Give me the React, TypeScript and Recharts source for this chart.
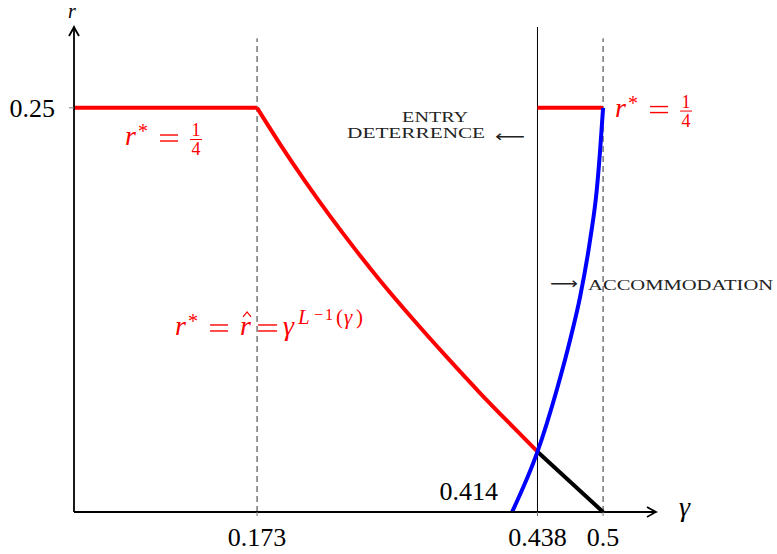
import React from 'react';
import { LineChart, Line, XAxis, YAxis, ReferenceLine, ReferenceDot } from 'recharts';

// gamma / r values
const redFlatG = [0, 0.173];
const redFlatR = [0.25, 0.25];
const redCurveG = [0.173, 0.1947, 0.2183, 0.242, 0.2656, 0.2892, 0.3204, 0.3526, 0.3837, 0.4149, 0.438];
const redCurveR = [0.25, 0.2276, 0.2047, 0.183, 0.1626, 0.1432, 0.1192, 0.0956, 0.0736, 0.0526, 0.0373];
const redRightG = [0.438, 0.5];
const redRightR = [0.25, 0.25];
const blueG = [0.414, 0.438, 0.4562, 0.4688, 0.4783, 0.4877, 0.494, 0.4972, 0.5];
const blueR = [0, 0.0373, 0.0755, 0.1064, 0.1332, 0.1682, 0.1991, 0.2239, 0.25];
const blackG = [0.438, 0.5];
const blackR = [0.0373, 0];

const xTicks = [0.173, 0.438, 0.5];
const yTicks = [0.25];
const dashedAt = [0.173, 0.5];
const solidAt = 0.438;

const zip = (g: number[], r: number[]) => g.map((v, i) => ({ g: v, r: r[i] }));

const SERIF = "'Liberation Serif', 'DejaVu Serif', serif";
const RED = '#ff0000';

const note = (key: string, g: number, r: number, content: React.ReactNode) => (
  <ReferenceDot
    key={key}
    x={g}
    y={r}
    r={0}
    ifOverflow="visible"
    shape={(p: any) => <g transform={`translate(${p.cx},${p.cy})`}>{content}</g>}
  />
);

const Eq = ({ x1, x2 }: { x1: number; x2: number }) => (
  <g stroke={RED} strokeWidth={1.4}>
    <line x1={x1} x2={x2} y1={-10} y2={-10} />
    <line x1={x1} x2={x2} y1={-4} y2={-4} />
  </g>
);

const RStar = () => (
  <g fill={RED} fontFamily={SERIF}>
    <text x={0} y={0} fontStyle="italic" fontSize={28}>r</text>
    <text x={13} y={-7} fontSize={20}>*</text>
  </g>
);

const Quarter = () => (
  <g>
    <RStar />
    <Eq x1={35} x2={53} />
    <g fill={RED} fontFamily={SERIF} fontSize={18} textAnchor="middle">
      <text x={71} y={-9}>1</text>
      <text x={71} y={10}>4</text>
    </g>
    <line x1={65} x2={77} y1={-5.5} y2={-5.5} stroke={RED} strokeWidth={1} />
  </g>
);

const HatFormula = () => (
  <g>
    <RStar />
    <Eq x1={35} x2={53} />
    <text x={65} y={0} fill={RED} fontFamily={SERIF} fontStyle="italic" fontSize={28}>r</text>
    <path d="M68,-18 L72,-23 L76,-18" fill="none" stroke={RED} strokeWidth={1.2} />
    <Eq x1={83} x2={102} />
    <g fill={RED} fontFamily={SERIF}>
      <text x={108} y={0} fontStyle="italic" fontSize={28}>γ</text>
      <text x={123} y={-11} fontStyle="italic" fontSize={21}>L</text>
      <text x={139} y={-15} fontSize={16}>−</text>
      <text x={150} y={-15} fontSize={16}>1</text>
      <text x={161} y={-11} fontSize={21}>(</text>
      <text x={169} y={-11} fontSize={21} fontStyle="italic">γ</text>
      <text x={181} y={-11} fontSize={21}>)</text>
    </g>
  </g>
);

const arrowRight = <path d="M-9,-5 Q-3,-1.5 0,0 Q-3,1.5 -9,5" fill="none" stroke="#000" strokeWidth={1.8} />;
const arrowUp = <path d="M-5,9 Q-1.5,3 0,0 Q1.5,3 5,9" fill="none" stroke="#000" strokeWidth={1.8} />;

export default function App() {
  return (
    <div style={{ position: 'absolute', left: 0, top: 0, background: '#fff' }}>
      <LineChart width={777} height={554} margin={{ top: 27, right: 121, bottom: 0, left: 0 }}>
        <XAxis
          type="number"
          dataKey="g"
          domain={[0, 0.55]}
          ticks={xTicks}
          interval={0}
          axisLine={false}
          tickLine={{ stroke: '#777' }}
          tickSize={4}
          tickMargin={12}
          height={42}
          tick={{ fill: '#000', fontSize: 26, fontFamily: SERIF }}
        />
        <YAxis
          type="number"
          domain={[0, 0.3]}
          ticks={yTicks}
          interval={0}
          axisLine={false}
          tickLine={{ stroke: '#777' }}
          tickSize={5}
          tickMargin={14}
          width={74}
          tick={{ fill: '#000', fontSize: 26, fontFamily: SERIF }}
        />
        {dashedAt.map(g => (
          <ReferenceLine
            key={g}
            segment={[{ x: g, y: 0 }, { x: g, y: 0.293 }]}
            stroke="#333"
            strokeWidth={1}
            strokeDasharray="6 4"
          />
        ))}
        <ReferenceLine segment={[{ x: solidAt, y: 0 }, { x: solidAt, y: 0.3 }]} stroke="#000" strokeWidth={1} />

        <Line data={zip(blackG, blackR)} dataKey="r" type="linear" stroke="#000" strokeWidth={4} dot={false} isAnimationActive={false} />
        <Line data={zip(redFlatG, redFlatR)} dataKey="r" type="linear" stroke={RED} strokeWidth={4} dot={false} isAnimationActive={false} />
        <Line data={zip(redCurveG, redCurveR)} dataKey="r" type="monotone" stroke={RED} strokeWidth={4} dot={false} isAnimationActive={false} />
        <Line data={zip(redRightG, redRightR)} dataKey="r" type="linear" stroke={RED} strokeWidth={4} dot={false} isAnimationActive={false} />
        <Line data={zip(blueG, blueR)} dataKey="r" type="monotone" stroke="#0000ff" strokeWidth={4} dot={false} isAnimationActive={false} />

        {/* axes with arrow heads */}
        <ReferenceLine segment={[{ x: 0, y: 0 }, { x: 0.55, y: 0 }]} stroke="#000" strokeWidth={1.8} />
        <ReferenceLine segment={[{ x: 0, y: 0 }, { x: 0, y: 0.3 }]} stroke="#000" strokeWidth={1.8} />
        {note('ax', 0.55, 0, arrowRight)}
        {note('ay', 0, 0.3, arrowUp)}
        {note('lr', 0, 0.3, <text x={-2} y={-9} textAnchor="middle" fontFamily={SERIF} fontStyle="italic" fontSize={20}>r</text>)}
        {note('lg', 0.55, 0, <text x={28.5} y={4} textAnchor="middle" fontFamily={SERIF} fontStyle="italic" fontSize={28}>γ</text>)}
        {note('0.414', 0.414, 0, <text x={-14} y={-12} textAnchor="end" fontFamily={SERIF} fontSize={26}>0.414</text>)}

        {note('q1', 0.0482, 0.227, <Quarter />)}
        {note('q2', 0.5113, 0.2446, <Quarter />)}
        {note('hat', 0.0955, 0.1095, <HatFormula />)}

        {note('entry', 0.3885, 0.2313, (
          <g fontFamily={SERIF} fill="#222" fontSize={15}>
            <text x={-50} y={-16} textAnchor="middle" textLength={66} lengthAdjust="spacingAndGlyphs">ENTRY</text>
            <text x={-138} y={0} textLength={138} lengthAdjust="spacingAndGlyphs">DETERRENCE</text>
            <text x={10} y={4} fontFamily="DejaVu Sans" fontSize={16} textLength={30} lengthAdjust="spacingAndGlyphs">⟵</text>
          </g>
        ))}
        {note('accom', 0.4499, 0.1373, (
          <g fontFamily={SERIF} fill="#222" fontSize={15}>
            <text x={0} y={-1} fontFamily="DejaVu Sans" fontSize={16} textLength={28} lengthAdjust="spacingAndGlyphs">⟶</text>
            <text x={38} y={0} textLength={185} lengthAdjust="spacingAndGlyphs">ACCOMMODATION</text>
          </g>
        ))}
      </LineChart>
    </div>
  );
}
